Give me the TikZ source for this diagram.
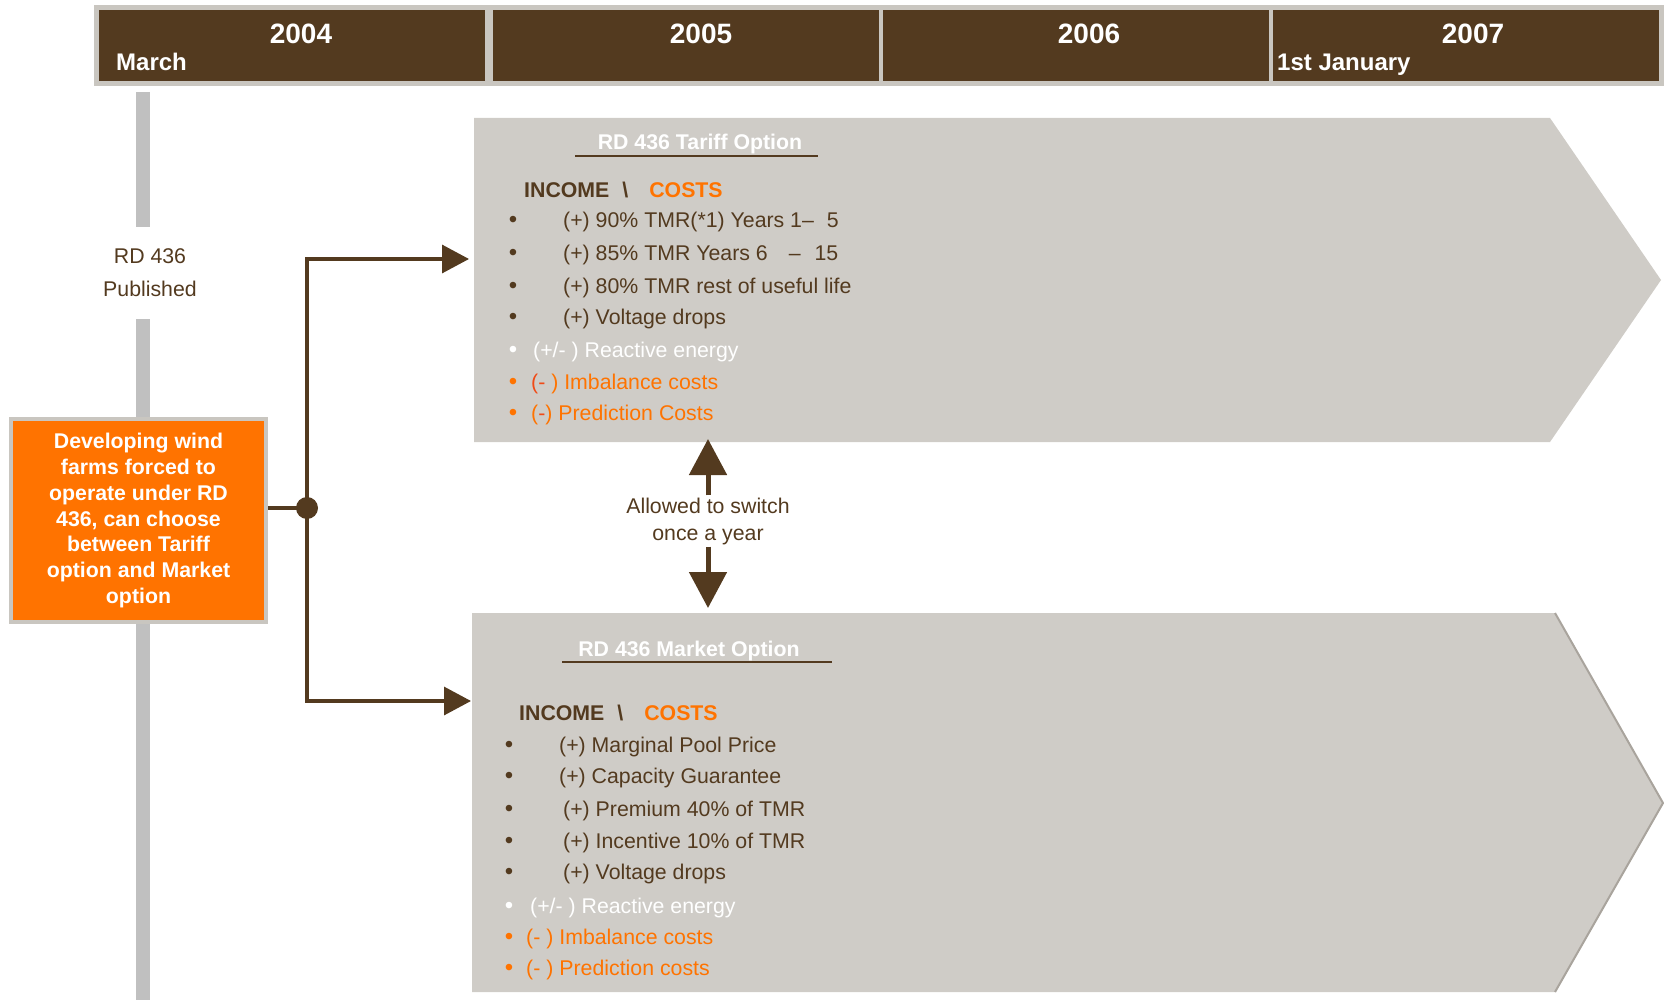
\documentclass[tikz,border=0pt]{standalone}
\usepackage{fontspec}
\setmainfont{Liberation Sans}
\usetikzlibrary{arrows.meta}

\definecolor{barkbrown}{HTML}{533A1F}
\definecolor{panelgray}{HTML}{CFCCC7}
\definecolor{framegray}{HTML}{C9C6C0}
\definecolor{railgray}{HTML}{C0C0C0}
\definecolor{windorange}{HTML}{FF7300}
\definecolor{costred}{HTML}{F04A16}
\definecolor{edgegray}{HTML}{A9A49D}

\newcommand{\itemfont}{\fontsize{21.3}{25.7}\selectfont}

\tikzset{
  yearcell/.style={fill=barkbrown, minimum width=386pt, minimum height=71pt, inner sep=0pt},
  yeartxt/.style={anchor=base, inner sep=0pt, text=white, font=\fontsize{28}{30}\selectfont\bfseries},
  monthtxt/.style={anchor=base west, inner sep=0pt, text=white, font=\fontsize{24}{26}\selectfont\bfseries},
  rail/.style={draw=railgray, line width=14pt},
  conn/.style={draw=barkbrown, line width=3.3pt},
  bigtip/.style={-{Triangle[length=27pt,width=28pt]}},
  switchtip/.style={-{Triangle[length=36pt,width=37pt]}, draw=barkbrown, line width=5pt},
  bul/.style={anchor=base, inner sep=0pt, font=\fontsize{24}{26}\selectfont},
  item/.style={anchor=base west, inner sep=0pt, font=\itemfont},
  title/.style={anchor=base, inner sep=0pt, text=white, font=\itemfont\bfseries}
}

\begin{document}
\begin{tikzpicture}[x=1pt, y=-1pt]
    \useasboundingbox (0,0) rectangle (1664,1000);

    \fill[framegray] (94,5) rectangle (1664,86);
    \foreach \yr/\cx/\tx in {2004/292/301, 2005/685.5/701, 2006/1075.5/1089, 2007/1466/1473}{
        \node[yearcell] (c\yr) at (\cx,45.5) {};
        \node[yeartxt] (t\yr) at (\tx,44) {\yr};
    }
    \node[monthtxt] (march) at (116,71) {March};
    \node[monthtxt] (january) at (1277,71) {1st January};

    \coordinate (railtop) at (143,92);
    \coordinate (railend) at (143,1000);
    \node[text=barkbrown, font=\itemfont, align=center, minimum height=92pt, inner sep=0pt] (rdpub) at (150,273)
        {RD 436\\[7pt]Published};
    \draw[rail] (railtop) -- (railtop |- rdpub.north);
    \draw[rail] (railtop |- rdpub.south) -- (railend);

    \fill[panelgray] (474,118) -- (1550,118) -- (1661,280) -- (1550,442) -- (474,442) -- cycle;
    \fill[panelgray] (472,613) -- (1555,613) -- (1663,803) -- (1555,992) -- (472,992) -- cycle;
    \draw[edgegray, line width=2pt] (1555,613) -- (1663,803) -- (1555,992);

    \coordinate (tariffin) at (469,259);
    \coordinate (marketin) at (471,701);
    \coordinate (tariffbot) at (708,439);
    \coordinate (markettop) at (708,608);

    \node[fill=windorange, draw=framegray, line width=4pt, minimum width=255pt, minimum height=203pt,
          text=white, font=\itemfont\bfseries, align=center, inner sep=0pt] (devbox) at (138.5,520.5)
        {Developing wind\\farms forced to\\operate under RD\\436, can choose\\between Tariff\\option and Market\\option};

    \node[circle, fill=barkbrown, minimum size=22pt, inner sep=0pt] (hub) at (307,508) {};
    \draw[conn] (hub.center -| devbox.east) -- (hub.center);
    \draw[conn, bigtip] (hub.center) |- (tariffin);
    \draw[conn, bigtip] (hub.center) |- (marketin);

    \node[text=barkbrown, font=\fontsize{21.3}{27}\selectfont, align=center, inner sep=2pt] (switchnote) at (708,521)
        {Allowed to switch\\once a year};
    \draw[switchtip] (switchnote.north) -- (tariffbot);
    \draw[switchtip] (switchnote.south) -- (markettop);

    \node[title] (tarifftitle) at (700,150) {RD 436 Tariff Option};
    \draw[barkbrown, line width=1.5pt] (575,156) -- (818,156);
    \node[item, font=\itemfont\bfseries, text=barkbrown] (tariffhead) at (524,197.5)
        {INCOME\hspace{13pt}\textbackslash\hspace{21pt}\textcolor{windorange}{COSTS}};
    \foreach \yy/\txt in {228/{(+) 90\% TMR(*1) Years 1–\hspace{13pt}5},
                          261/{(+) 85\% TMR Years 6\hspace{21pt}–\hspace{14pt}15},
                          293/{(+) 80\% TMR rest of useful life},
                          324/{(+) Voltage drops}}{
        \node[bul, text=barkbrown] at (513,\yy) {\textbullet};
        \node[item, text=barkbrown] at (563,\yy) {\txt};
    }
    \node[bul, text=white] (tbw) at (513,357) {\textbullet};
    \node[item, text=white] (treact) at (533,357) {(+/- ) Reactive energy};
    \node[bul, text=windorange] (tbi) at (513,389) {\textbullet};
    \node[item, text=windorange] (timb) at (531,389) {\textcolor{costred}{(-} ) Imbalance costs};
    \node[bul, text=windorange] (tbp) at (513,420) {\textbullet};
    \node[item, text=windorange] (tpred) at (531,420) {(\textcolor{costred}{-}) Prediction Costs};

    \node[title] (markettitle) at (689,656) {RD 436 Market Option};
    \draw[barkbrown, line width=1.5pt] (562,662) -- (832,662);
    \node[item, font=\itemfont\bfseries, text=barkbrown] (markethead) at (519,720.5)
        {INCOME\hspace{13pt}\textbackslash\hspace{21pt}\textcolor{windorange}{COSTS}};
    \foreach \yy/\xx/\txt in {752/559/{(+) Marginal Pool Price},
                              783/559/{(+) Capacity Guarantee},
                              816/563/{(+) Premium 40\% of TMR},
                              848/563/{(+) Incentive 10\% of TMR},
                              879/563/{(+) Voltage drops}}{
        \node[bul, text=barkbrown] at (509,\yy) {\textbullet};
        \node[item, text=barkbrown] at (\xx,\yy) {\txt};
    }
    \node[bul, text=white] (mbw) at (509,913) {\textbullet};
    \node[item, text=white] (mreact) at (530,913) {(+/- ) Reactive energy};
    \node[bul, text=windorange] (mbi) at (509,944) {\textbullet};
    \node[item, text=windorange] (mimb) at (526,944) {(-\hspace{6pt}) Imbalance costs};
    \node[bul, text=windorange] (mbp) at (509,975) {\textbullet};
    \node[item, text=windorange] (mpred) at (526,975) {(-\hspace{6pt}) Prediction costs};
\end{tikzpicture}
\end{document}
